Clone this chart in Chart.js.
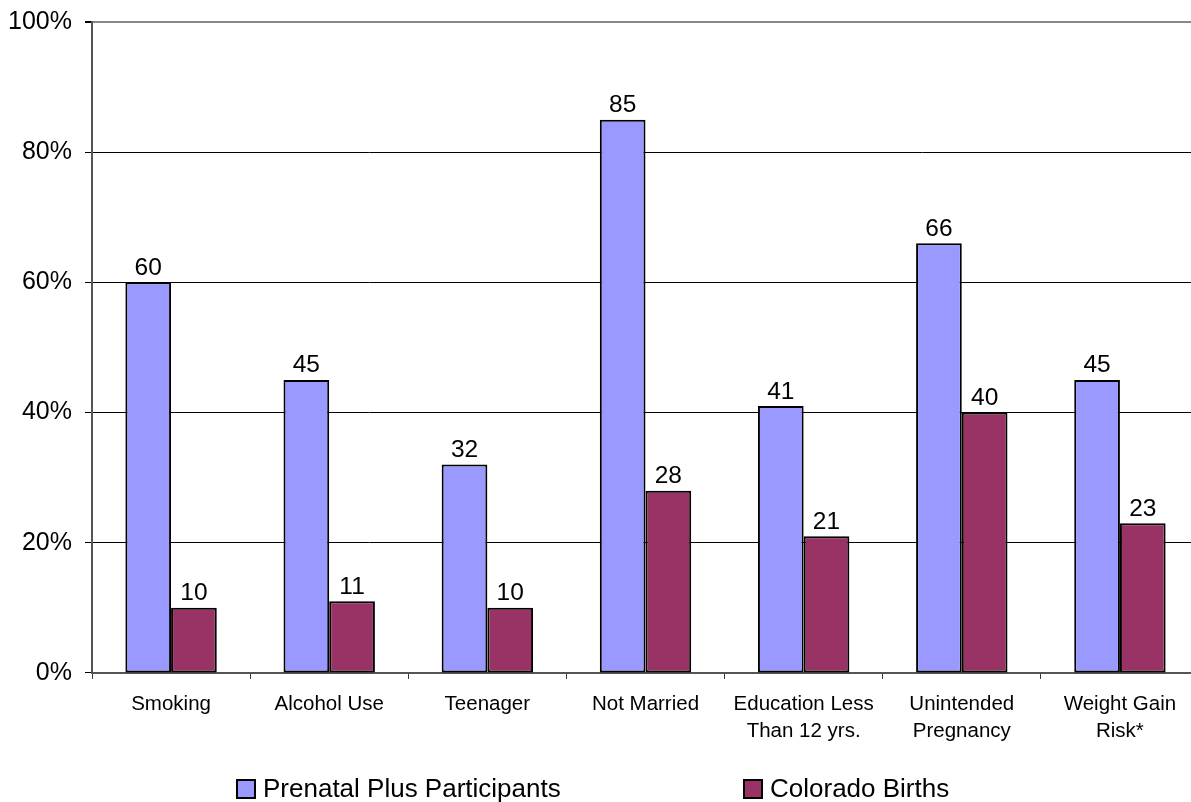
<!DOCTYPE html>
<html>
<head>
<meta charset="utf-8">
<script src="https://cdn.jsdelivr.net/npm/chart.js@4/dist/chart.umd.min.js"></script>
<style>
  html, body { margin: 0; padding: 0; background: #fff; overflow: hidden; }
  #wrap { width: 1199px; height: 802px; }
</style>
</head>
<body>
<div id="wrap"><canvas id="c" width="1199" height="802"></canvas></div>
<script>
// Risk factor categories (multi-line labels as arrays)
const categories = [
  ["Smoking"],
  ["Alcohol Use"],
  ["Teenager"],
  ["Not Married"],
  ["Education Less", "Than 12 yrs."],
  ["Unintended", "Pregnancy"],
  ["Weight Gain", "Risk*"]
];
const seriesNames = ["Prenatal Plus Participants", "Colorado Births"];
const prenatalPlus = [60, 45, 32, 85, 41, 66, 45];
const coloradoBirths = [10, 11, 10, 28, 21, 40, 23];
const yMin = 0, yMax = 100, yStep = 20;

const FONT = '"Liberation Sans", Arial, Helvetica, sans-serif';
const colors = ["#9999FF", "#993366"];

// Value printed above each bar
const valueLabels = {
  id: 'valueLabels',
  afterDatasetsDraw(chart) {
    const ctx = chart.ctx;
    ctx.save();
    ctx.font = '24.5px ' + FONT;
    ctx.fillStyle = '#000';
    ctx.textAlign = 'center';
    ctx.textBaseline = 'alphabetic';
    chart.data.datasets.forEach((ds, i) => {
      chart.getDatasetMeta(i).data.forEach((bar, j) => {
        ctx.fillText(String(ds.data[j]), bar.x, bar.y - 7.5);
      });
    });
    ctx.restore();
  }
};

// Legend row along the bottom with wide spacing between entries
const bottomLegend = {
  id: 'bottomLegend',
  afterDraw(chart) {
    const ctx = chart.ctx;
    const starts = [237, 744];
    const box = 18, top = 780, baseline = 797;
    ctx.save();
    ctx.font = '26px ' + FONT;
    ctx.textAlign = 'left';
    ctx.textBaseline = 'alphabetic';
    chart.data.datasets.forEach((ds, i) => {
      const x = starts[i];
      ctx.fillStyle = ds.backgroundColor;
      ctx.fillRect(x, top, box, box);
      ctx.lineWidth = 2;
      ctx.strokeStyle = '#000';
      ctx.strokeRect(x, top, box, box);
      ctx.fillStyle = '#000';
      ctx.fillText(ds.label, x + box + 8, baseline);
    });
    ctx.restore();
  }
};

new Chart(document.getElementById('c'), {
  type: 'bar',
  data: {
    labels: categories,
    datasets: [
      { label: seriesNames[0], data: prenatalPlus, backgroundColor: colors[0] },
      { label: seriesNames[1], data: coloradoBirths, backgroundColor: colors[1] }
    ]
  },
  options: {
    responsive: false,
    animation: false,
    devicePixelRatio: 1,
    layout: { padding: { top: 22, right: 0, left: 0, bottom: 46 } },
    datasets: {
      bar: {
        categoryPercentage: 0.578,
        barPercentage: 1.0,
        borderColor: '#000',
        borderWidth: 2,
        borderSkipped: false
      }
    },
    plugins: {
      legend: { display: false },
      tooltip: { enabled: false }
    },
    scales: {
      x: {
        grid: {
          offset: true,
          drawOnChartArea: false,
          drawTicks: true,
          tickLength: 6,
          tickColor: '#333',
          lineWidth: 1
        },
        border: { color: '#555', width: 2 },
        ticks: {
          color: '#000',
          padding: 11.5,
          maxRotation: 0,
          autoSkip: false,
          font: { family: FONT, size: 20.5, lineHeight: 1.32 }
        }
      },
      y: {
        min: yMin,
        max: yMax,
        afterFit(scale) {
          scale.width = 92;
          scale.paddingTop = 0;
          scale.paddingBottom = 0;
        },
        grid: {
          color: (c) => {
            if (!c.tick) return '#000';
            if (c.tick.value === yMax) return '#888';
            if (c.tick.value === yMin) return 'rgba(0,0,0,0)';
            return '#000';
          },
          lineWidth: (c) => (c.tick && c.tick.value === yMax) ? 2 : 1,
          tickColor: '#000',
          tickLength: 7
        },
        border: { color: '#555', width: 2 },
        ticks: {
          stepSize: yStep,
          color: '#000',
          padding: 13,
          font: { family: FONT, size: 25 },
          callback: (v) => v + '%'
        }
      }
    }
  },
  plugins: [valueLabels, bottomLegend]
});
</script>
</body>
</html>
